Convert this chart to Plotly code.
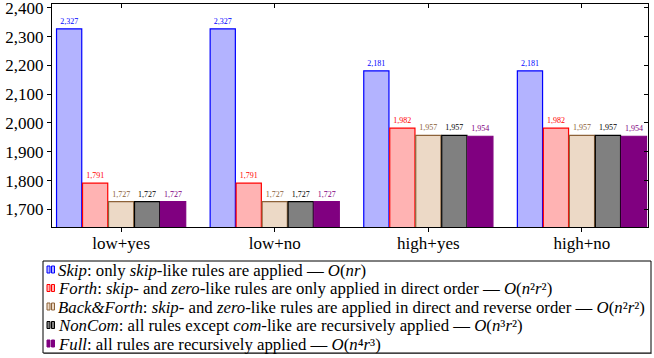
import plotly.graph_objects as go

categories = ["low+yes", "low+no", "high+yes", "high+no"]
skip = [2327, 2327, 2181, 2181]
forth = [1791, 1791, 1982, 1982]
backforth = [1727, 1727, 1957, 1957]
noncom = [1727, 1727, 1957, 1957]
full = [1727, 1727, 1954, 1954]
y_ticks = [1700, 1800, 1900, 2000, 2100, 2200, 2300, 2400]

series = [
    ("Skip", skip, "#b3b3ff", "#0000ff", "#0000ff"),
    ("Forth", forth, "#ffb3b3", "#ff0000", "#ff0000"),
    ("Back&Forth", backforth, "#ecd9c6", "#8c6239", "#8c6239"),
    ("NonCom", noncom, "#808080", "#000000", "#000000"),
    ("Full", full, "#800080", "#800080", "#800080"),
]

legend_texts = [
    "<i>Skip</i>: only <i>skip</i>-like rules are applied — <i>O</i>(<i>nr</i>)",
    "<i>Forth</i>: <i>skip</i>- and <i>zero</i>-like rules are only applied in direct order — <i>O</i>(<i>n</i>²<i>r</i>²)",
    "<i>Back&amp;Forth</i>: <i>skip</i>- and <i>zero</i>-like rules are applied in direct and reverse order — <i>O</i>(<i>n</i>²<i>r</i>²)",
    "<i>NonCom</i>: all rules except <i>com</i>-like are recursively applied — <i>O</i>(<i>n</i>³<i>r</i>²)",
    "<i>Full</i>: all rules are recursively applied — <i>O</i>(<i>n</i>⁴<i>r</i>³)",
]

W, H = 654, 358
L, R, T, B = 52, 6, 4, 131
PW, PH = W - L - R, H - T - B
XRANGE = [-0.45, 3.43]
YRANGE = [1639, 2413]

def px(x):
    return (x - L) / PW

def py(y):
    return (H - B - y) / PH

SERIF = "Liberation Serif"

fig = go.Figure()
for name, vals, fill, edge, tcol in series:
    fig.add_trace(go.Bar(
        x=categories, y=vals, name=name,
        marker=dict(color=fill, line=dict(color=edge, width=1.2)),
        text=[f"{v:,}" for v in vals], textposition="outside",
        textfont=dict(family=SERIF, size=8, color=tcol),
        cliponaxis=False, showlegend=False,
    ))
# empty trace so the mirrored tick axes (top / right) get drawn
fig.add_trace(go.Scatter(x=[], y=[], xaxis="x2", yaxis="y2", showlegend=False, hoverinfo="skip"))

fig.update_layout(
    width=W, height=H, margin=dict(l=L, r=R, t=T, b=B, autoexpand=False),
    paper_bgcolor="white", plot_bgcolor="white",
    barmode="group", bargap=0.154, bargroupgap=0.03,
    font=dict(family=SERIF, color="black"),
    xaxis=dict(range=XRANGE, showline=True, linecolor="black", linewidth=1, mirror=True,
               ticks="outside", ticklen=4, tickcolor="black", automargin=False,
               tickfont=dict(family=SERIF, size=17), showgrid=False, ticklabelstandoff=-3),
    yaxis=dict(range=YRANGE, tickvals=y_ticks, ticktext=[f"{v:,}" for v in y_ticks],
               showline=True, linecolor="black", linewidth=1, mirror=True,
               ticks="outside", ticklen=4, tickcolor="black", automargin=False,
               ticklabeloverflow="allow",
               tickfont=dict(family=SERIF, size=17), showgrid=False, zeroline=False),
    xaxis2=dict(overlaying="x", side="top", anchor="y2", type="linear", range=XRANGE,
                tickvals=list(range(len(categories))), showticklabels=False,
                ticks="inside", ticklen=4, tickcolor="black", showgrid=False, zeroline=False,
                showline=False, automargin=False),
    yaxis2=dict(overlaying="y", side="right", anchor="x2", range=YRANGE,
                tickvals=y_ticks, showticklabels=False,
                ticks="inside", ticklen=4, tickcolor="black", showgrid=False, zeroline=False,
                showline=False, automargin=False),
)

# legend box
shapes = [
    dict(type="rect", xref="paper", yref="paper", x0=px(44), x1=px(652), y0=py(354), y1=py(353),
         line=dict(width=0), fillcolor="#888888"),
    dict(type="rect", xref="paper", yref="paper", x0=px(43), x1=px(651), y0=py(261), y1=py(353),
         line=dict(color="black", width=1), fillcolor="rgba(0,0,0,0)"),
]
ycent = [270, 288.5, 307, 325.5, 344]
for (name, vals, fill, edge, tcol), yc, txt in zip(series, ycent, legend_texts):
    for x0 in (47, 51.5):
        shapes.append(dict(type="rect", xref="paper", yref="paper",
                           x0=px(x0), x1=px(x0 + 3), y0=py(yc + 3), y1=py(yc - 4),
                           line=dict(color=edge, width=1), fillcolor=fill))
    fig.add_annotation(xref="paper", yref="paper", x=px(56), y=py(yc), xanchor="left", yanchor="middle",
                       text=txt, showarrow=False, font=dict(family=SERIF, size=16.8, color="black"))
fig.update_layout(shapes=shapes)

fig.write_html("out.html", config={"displayModeBar": False},
               post_script="document.body.style.margin='0';document.body.style.padding='0';")
